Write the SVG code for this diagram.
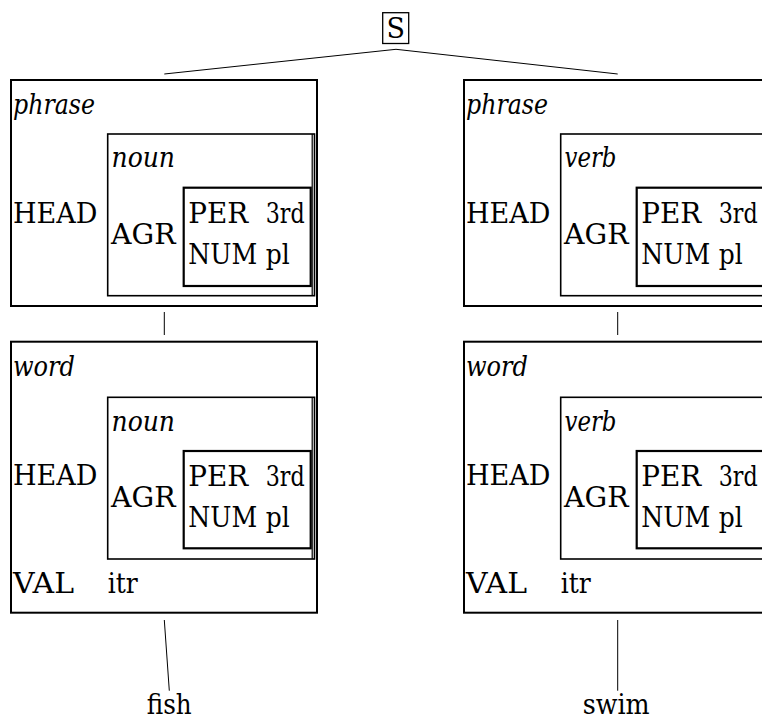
<svg xmlns="http://www.w3.org/2000/svg" width="762" height="721" viewBox="0 0 762 721">
<style>
text{font-family:"DejaVu Serif","Liberation Serif",serif;font-size:27px;fill:#000}
.it{font-style:italic}
.outer{fill:none;stroke:#000;stroke-width:2}
.mid{fill:none;stroke:#000;stroke-width:1.6}
.inner{fill:none;stroke:#000;stroke-width:2.2}
.dbl{stroke:#000;stroke-width:1.2}
.edge{stroke:#000;stroke-width:1;fill:none}
</style>
<rect width="762" height="721" fill="#fff"/>
<g id="connectors">
<line class="edge" x1="396" y1="49.3" x2="164.3" y2="74"/>
<line class="edge" x1="396" y1="49.3" x2="617.7" y2="74"/>
<line class="edge" x1="164.3" y1="312" x2="164.3" y2="335"/>
<line class="edge" x1="617.7" y1="312" x2="617.7" y2="335"/>
<line class="edge" x1="164.3" y1="620" x2="169.3" y2="690.7"/>
<line class="edge" x1="617.7" y1="620" x2="617.7" y2="690.7"/>
</g>
<g id="S">
<rect x="382.7" y="12.7" width="26" height="30.8" fill="none" stroke="#000" stroke-width="1.3"/>
<text x="395.7" y="37.5" text-anchor="middle">S</text>
</g>
<g id="phrase-noun">
<rect class="outer" x="11" y="80" width="306" height="226"/>
<rect class="mid" x="107.7" y="134" width="206.8" height="161.7"/>
<line class="dbl" x1="312.2" y1="134" x2="312.2" y2="295.7"/>
<rect class="inner" x="183.7" y="187.7" width="127" height="98.3"/>
<text class="it" x="13" y="114" textLength="82" lengthAdjust="spacingAndGlyphs">phrase</text>
<text x="13" y="222.5" textLength="84.5" lengthAdjust="spacingAndGlyphs">HEAD</text>
<text class="it" x="111.5" y="167" textLength="63.5" lengthAdjust="spacingAndGlyphs">noun</text>
<text x="111" y="244.3" textLength="64.5" lengthAdjust="spacingAndGlyphs">AGR</text>
<text x="188.3" y="223.3" textLength="60" lengthAdjust="spacingAndGlyphs">PER</text>
<text x="265.7" y="223.3" textLength="39" lengthAdjust="spacingAndGlyphs">3rd</text>
<text x="188.3" y="264.3" textLength="69" lengthAdjust="spacingAndGlyphs">NUM</text>
<text x="265.7" y="264.3" textLength="24" lengthAdjust="spacingAndGlyphs">pl</text>
</g>
<g id="word-noun">
<rect class="outer" x="11" y="341.7" width="306" height="271"/>
<rect class="mid" x="107.7" y="397.3" width="206.8" height="161.7"/>
<line class="dbl" x1="312.2" y1="397.3" x2="312.2" y2="559"/>
<rect class="inner" x="183.7" y="451" width="127" height="97.3"/>
<text class="it" x="13" y="376" textLength="62" lengthAdjust="spacingAndGlyphs">word</text>
<text x="13" y="484.7" textLength="84.5" lengthAdjust="spacingAndGlyphs">HEAD</text>
<text class="it" x="111.5" y="430.5" textLength="63.5" lengthAdjust="spacingAndGlyphs">noun</text>
<text x="111" y="506.7" textLength="64.5" lengthAdjust="spacingAndGlyphs">AGR</text>
<text x="188.3" y="485.7" textLength="60" lengthAdjust="spacingAndGlyphs">PER</text>
<text x="265.7" y="485.7" textLength="39" lengthAdjust="spacingAndGlyphs">3rd</text>
<text x="188.3" y="527.3" textLength="69" lengthAdjust="spacingAndGlyphs">NUM</text>
<text x="265.7" y="527.3" textLength="24" lengthAdjust="spacingAndGlyphs">pl</text>
<text x="13" y="592.7" textLength="61" lengthAdjust="spacingAndGlyphs">VAL</text>
<text x="107.7" y="592.7" textLength="30" lengthAdjust="spacingAndGlyphs">itr</text>
</g>
<g id="phrase-verb" transform="translate(453,0)">
<rect class="outer" x="11" y="80" width="306" height="226"/>
<rect class="mid" x="107.7" y="134" width="206.8" height="161.7"/>
<line class="dbl" x1="312.2" y1="134" x2="312.2" y2="295.7"/>
<rect class="inner" x="183.7" y="187.7" width="127" height="98.3"/>
<text class="it" x="13" y="114" textLength="82" lengthAdjust="spacingAndGlyphs">phrase</text>
<text x="13" y="222.5" textLength="84.5" lengthAdjust="spacingAndGlyphs">HEAD</text>
<text class="it" x="111.5" y="167" textLength="52" lengthAdjust="spacingAndGlyphs">verb</text>
<text x="111" y="244.3" textLength="64.5" lengthAdjust="spacingAndGlyphs">AGR</text>
<text x="188.3" y="223.3" textLength="60" lengthAdjust="spacingAndGlyphs">PER</text>
<text x="265.7" y="223.3" textLength="39" lengthAdjust="spacingAndGlyphs">3rd</text>
<text x="188.3" y="264.3" textLength="69" lengthAdjust="spacingAndGlyphs">NUM</text>
<text x="265.7" y="264.3" textLength="24" lengthAdjust="spacingAndGlyphs">pl</text>
</g>
<g id="word-verb" transform="translate(453,0)">
<rect class="outer" x="11" y="341.7" width="306" height="271"/>
<rect class="mid" x="107.7" y="397.3" width="206.8" height="161.7"/>
<line class="dbl" x1="312.2" y1="397.3" x2="312.2" y2="559"/>
<rect class="inner" x="183.7" y="451" width="127" height="97.3"/>
<text class="it" x="13" y="376" textLength="62" lengthAdjust="spacingAndGlyphs">word</text>
<text x="13" y="484.7" textLength="84.5" lengthAdjust="spacingAndGlyphs">HEAD</text>
<text class="it" x="111.5" y="430.5" textLength="52" lengthAdjust="spacingAndGlyphs">verb</text>
<text x="111" y="506.7" textLength="64.5" lengthAdjust="spacingAndGlyphs">AGR</text>
<text x="188.3" y="485.7" textLength="60" lengthAdjust="spacingAndGlyphs">PER</text>
<text x="265.7" y="485.7" textLength="39" lengthAdjust="spacingAndGlyphs">3rd</text>
<text x="188.3" y="527.3" textLength="69" lengthAdjust="spacingAndGlyphs">NUM</text>
<text x="265.7" y="527.3" textLength="24" lengthAdjust="spacingAndGlyphs">pl</text>
<text x="13" y="592.7" textLength="61" lengthAdjust="spacingAndGlyphs">VAL</text>
<text x="107.7" y="592.7" textLength="30" lengthAdjust="spacingAndGlyphs">itr</text>
</g>
<g id="fish">
<text x="146.7" y="714" textLength="45" lengthAdjust="spacingAndGlyphs">fish</text>
</g>
<g id="swim">
<text x="582.7" y="714" textLength="67" lengthAdjust="spacingAndGlyphs">swim</text>
</g>
</svg>
